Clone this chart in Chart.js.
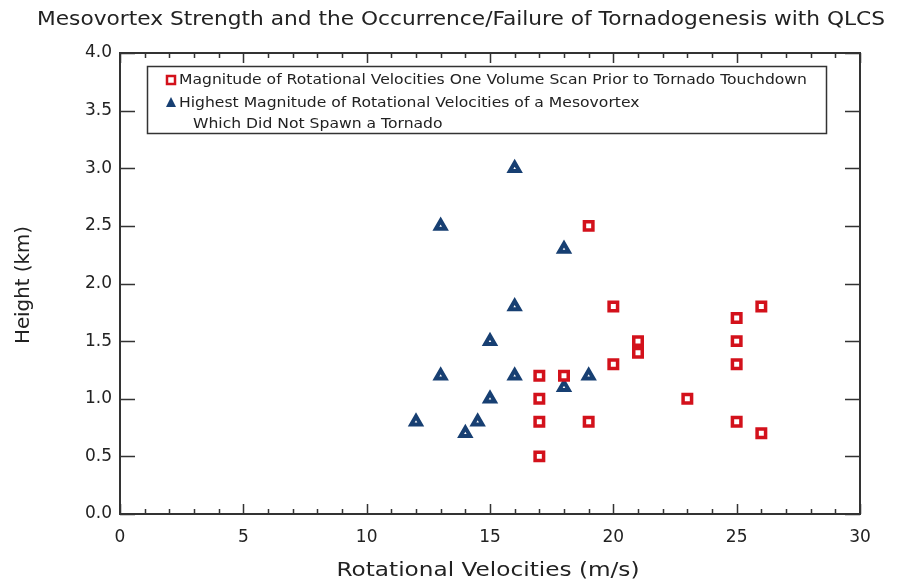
<!DOCTYPE html>
<html>
<head>
<meta charset="utf-8">
<title>Mesovortex Strength</title>
<script src="https://cdn.jsdelivr.net/npm/chart.js@4.4.1/dist/chart.umd.min.js"></script>
<style>
  html, body { margin: 0; padding: 0; background: #fff; }
  #wrap { width: 901px; height: 583px; position: relative; }
</style>
</head>
<body>
<div id="wrap"><canvas id="chart" width="901" height="583"></canvas></div>
<script>
// Rotational velocity (m/s) and height (km), one volume scan before touchdown
const tornadoVelocity = [17, 17, 17, 17, 18, 19, 19, 20, 20, 21, 21, 23, 25, 25, 25, 25, 26, 26];
const tornadoHeight   = [0.5, 0.8, 1.0, 1.2, 1.2, 0.8, 2.5, 1.3, 1.8, 1.4, 1.5, 1.0, 0.8, 1.3, 1.5, 1.7, 0.7, 1.8];

// Peak rotational velocity of mesovortices that never produced a tornado
const nullVelocity = [12, 13, 13, 14, 14.5, 15, 15, 16, 16, 16, 18, 18, 19];
const nullHeight   = [0.8, 1.2, 2.5, 0.7, 0.8, 1.0, 1.5, 1.2, 1.8, 3.0, 1.1, 2.3, 1.2];

const xTickLabels = [0, 5, 10, 15, 20, 25, 30];
const yTickLabels = ['0.0', '0.5', '1.0', '1.5', '2.0', '2.5', '3.0', '3.5', '4.0'];

const titleText = 'Mesovortex Strength and the Occurrence/Failure of Tornadogenesis with QLCS';
const xTitle = 'Rotational Velocities (m/s)';
const yTitle = 'Height (km)';
const legendLines = [
  'Magnitude of Rotational Velocities One Volume Scan Prior to Tornado Touchdown',
  'Highest Magnitude of Rotational Velocities of a Mesovortex',
  'Which Did Not Spawn a Tornado'
];

const RED = '#d3111b';
const BLUE = '#173f72';
const INK = '#222';
const FONT = '"DejaVu Sans", sans-serif';

const toPoints = (xs, ys) => xs.map((x, i) => ({ x: x, y: ys[i] }));

// text squeezed/stretched horizontally so it spans a given width
function wideText(ctx, text, x, y, width, align) {
  const sx = width / ctx.measureText(text).width;
  ctx.save();
  ctx.translate(x, y);
  ctx.scale(sx, 1);
  ctx.textAlign = align;
  ctx.fillText(text, 0, 0);
  ctx.restore();
  return sx;
}

// boxed frame with inward ticks on all four sides, plus titles and legend
const framePlugin = {
  id: 'frame',
  afterDraw(chart) {
    const ctx = chart.ctx;
    const a = chart.chartArea;
    const xs = chart.scales.x;
    const ys = chart.scales.y;

    ctx.save();
    ctx.strokeStyle = '#333';
    ctx.lineWidth = 2;
    ctx.strokeRect(a.left, a.top, a.right - a.left, a.bottom - a.top);

    ctx.lineWidth = 1.5;
    ctx.beginPath();
    xs.ticks.forEach(t => {
      const px = Math.round(xs.getPixelForValue(t.value)) + 0.5;
      const len = t.value % 5 === 0 ? 10 : 5;
      ctx.moveTo(px, a.bottom); ctx.lineTo(px, a.bottom - len);
      ctx.moveTo(px, a.top); ctx.lineTo(px, a.top + len);
    });
    ys.ticks.forEach(t => {
      const py = Math.round(ys.getPixelForValue(t.value)) + 0.5;
      ctx.moveTo(a.left, py); ctx.lineTo(a.left + 15, py);
      ctx.moveTo(a.right, py); ctx.lineTo(a.right - 15, py);
    });
    ctx.stroke();

    ctx.fillStyle = INK;
    ctx.textBaseline = 'middle';

    // titles
    ctx.font = '19px ' + FONT;
    wideText(ctx, titleText, 461, 20, 848, 'center');
    wideText(ctx, xTitle, 488, 571, 303, 'center');
    ctx.save();
    ctx.translate(24, 285);
    ctx.rotate(-Math.PI / 2);
    wideText(ctx, yTitle, 0, 0, 118, 'center');
    ctx.restore();

    // legend box
    ctx.lineWidth = 1.5;
    ctx.strokeRect(147.5, 66.5, 679, 67);
    ctx.font = '14px ' + FONT;
    const sx = wideText(ctx, legendLines[0], 179, 80, 628, 'left');
    [[legendLines[1], 179, 103], [legendLines[2], 193, 124]].forEach(([s, x, y]) => {
      wideText(ctx, s, x, y, ctx.measureText(s).width * sx, 'left');
    });

    ctx.strokeStyle = RED;
    ctx.lineWidth = 2.5;
    ctx.strokeRect(167, 76, 8, 8);
    ctx.fillStyle = BLUE;
    ctx.beginPath();
    ctx.moveTo(171, 97); ctx.lineTo(176, 107); ctx.lineTo(166, 107);
    ctx.closePath();
    ctx.fill();
    ctx.restore();
  }
};

new Chart(document.getElementById('chart'), {
  type: 'scatter',
  data: {
    datasets: [{
      label: legendLines[0],
      data: toPoints(tornadoVelocity, tornadoHeight),
      pointStyle: 'rect',
      pointRadius: 6,
      borderColor: RED,
      backgroundColor: '#fff',
      borderWidth: 3.5
    }, {
      label: legendLines[1],
      data: toPoints(nullVelocity, nullHeight),
      pointStyle: 'triangle',
      pointRadius: 5.5,
      borderColor: BLUE,
      backgroundColor: '#fff',
      borderWidth: 4
    }]
  },
  options: {
    responsive: false,
    animation: false,
    layout: { padding: { top: 53, right: 41, left: 0, bottom: 0 } },
    plugins: {
      legend: { display: false },
      tooltip: { enabled: false }
    },
    scales: {
      x: {
        type: 'linear',
        min: 0,
        max: 30,
        afterFit(scale) { scale.height = 69; },
        border: { display: false },
        grid: { display: false, drawTicks: false },
        ticks: {
          stepSize: 1,
          autoSkip: false,
          maxRotation: 0,
          padding: 13,
          color: INK,
          font: { family: FONT, size: 17 },
          callback: v => xTickLabels.includes(v) ? String(v) : ''
        }
      },
      y: {
        type: 'linear',
        min: 0,
        max: 4,
        afterFit(scale) { scale.width = 120; },
        border: { display: false },
        grid: { display: false, drawTicks: false },
        ticks: {
          stepSize: 0.5,
          padding: 8,
          color: INK,
          font: { family: FONT, size: 17 },
          callback: v => yTickLabels[Math.round(v * 2)]
        }
      }
    }
  },
  plugins: [framePlugin]
});
</script>
</body>
</html>
